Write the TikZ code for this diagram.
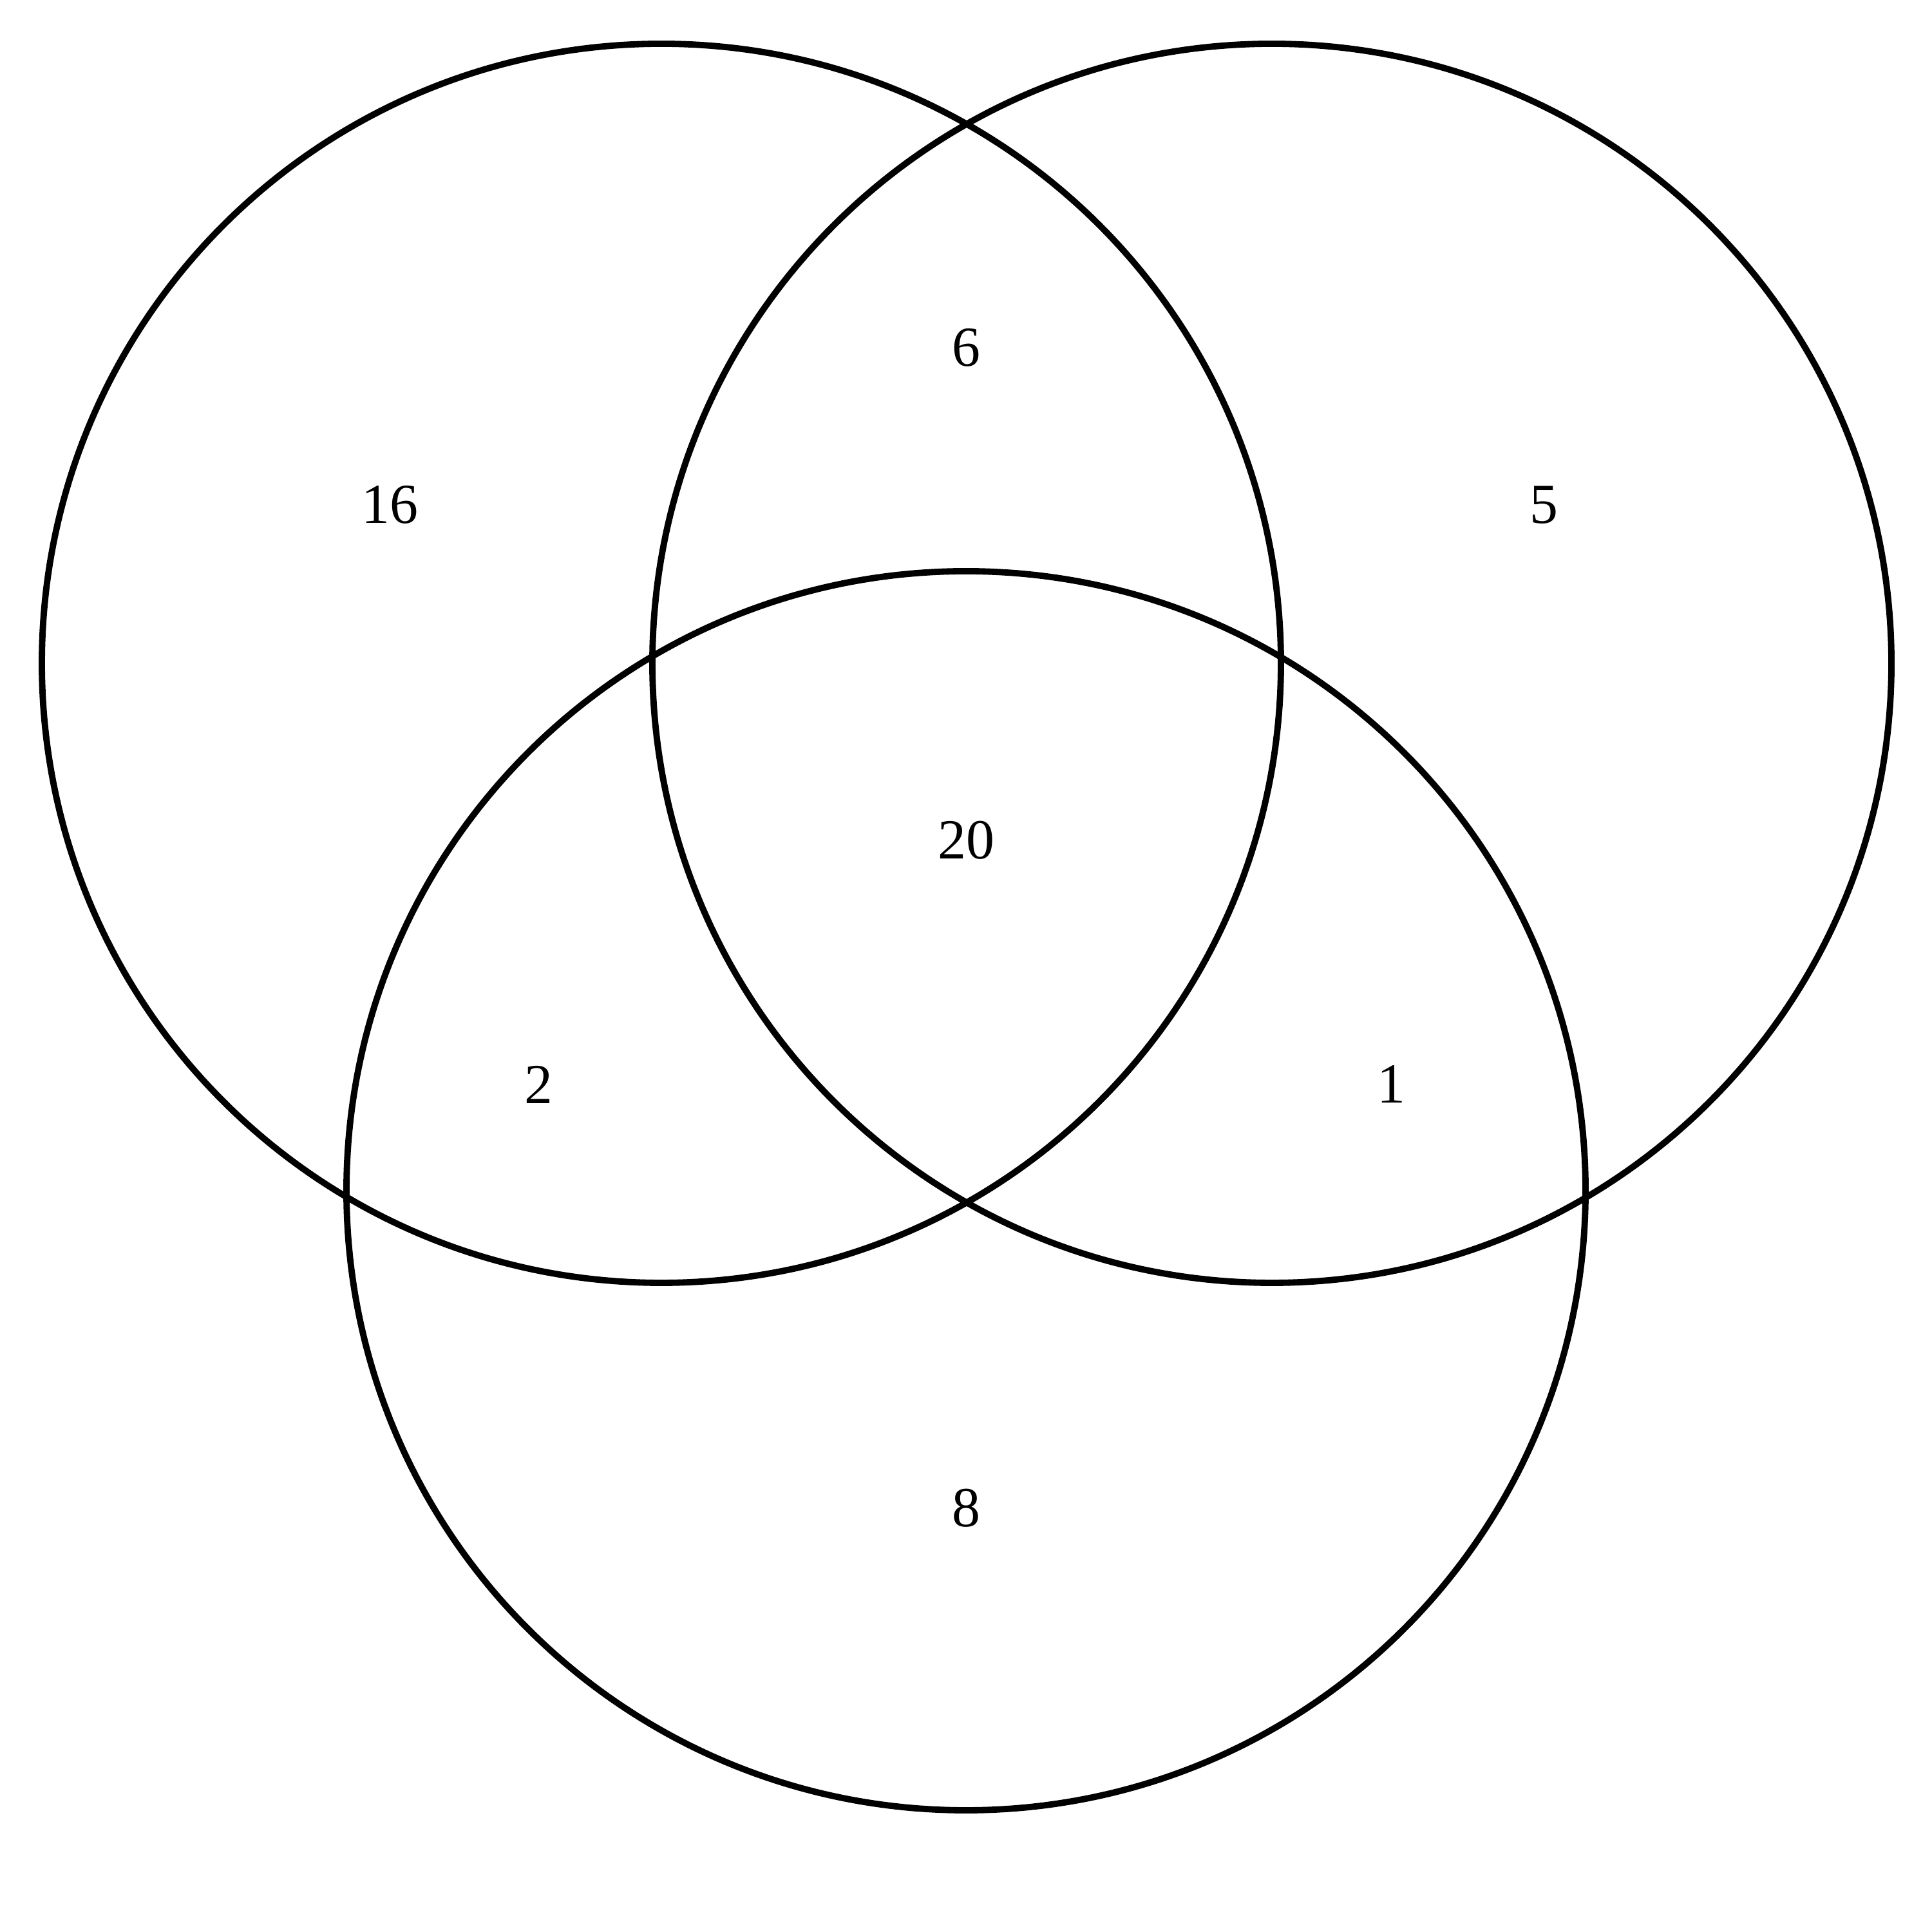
\documentclass[tikz,border=0pt]{standalone}
\usepackage{fontspec}
\setmainfont{Liberation Serif}
\begin{document}
\begin{tikzpicture}[
  setcircle/.style={draw=black, line width=2.8pt},
  lbl/.style={font=\fontsize{25}{30}\selectfont, inner sep=0pt}
]
\useasboundingbox (0,0) rectangle (30,30);
\fill[white] (0,0) rectangle (30,30);
\node[setcircle, circle, minimum size=19.24cm, inner sep=0pt] (A) at (10.27,19.70) {};
\node[setcircle, circle, minimum size=19.24cm, inner sep=0pt] (B) at (19.75,19.70) {};
\node[setcircle, circle, minimum size=19.24cm, inner sep=0pt] (C) at (15.00,11.51) {};
\node[lbl] (n16) at (6.05,22.16) {16};
\node[lbl] (n6) at (15.00,24.60) {6};
\node[lbl] (n5) at (23.97,22.16) {5};
\node[lbl] (n20) at (15.00,16.95) {20};
\node[lbl] (n2) at (8.36,13.16) {2};
\node[lbl] (n1) at (21.60,13.16) {1};
\node[lbl] (n8) at (15.00,6.58) {8};
\end{tikzpicture}
\end{document}
